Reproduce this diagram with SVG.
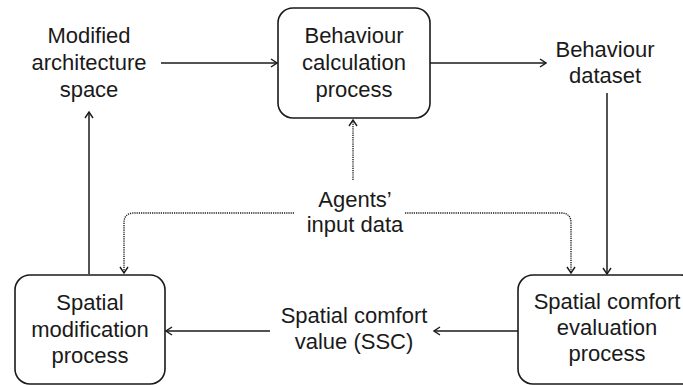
<svg xmlns="http://www.w3.org/2000/svg" width="683" height="385" viewBox="0 0 683 385">
  <defs>
    <marker id="arrow" viewBox="0 0 8 10" refX="7" refY="5" markerWidth="8" markerHeight="10" markerUnits="userSpaceOnUse" orient="auto">
      <path d="M1,1 L7,5 L1,9" fill="none" stroke="#1a1a1a" stroke-width="1.4"/>
    </marker>
  </defs>
  <style>
    text { font-family: "Liberation Sans", Arial, sans-serif; font-size: 22px; fill: #1a1a1a; text-anchor: middle; }
    .box { fill: #ffffff; stroke: #1a1a1a; stroke-width: 1.6; }
    .flow { fill: none; stroke: #1a1a1a; stroke-width: 1.5; marker-end: url(#arrow); }
    .dot { fill: none; stroke: #1a1a1a; stroke-width: 1.4; stroke-dasharray: 1.2 1; marker-end: url(#arrow); }
  </style>
  <rect width="683" height="385" fill="#ffffff"/>

  <!-- connectors -->
  <g id="connectors">
    <path class="flow" d="M161,63 H277"/>
    <path class="flow" d="M430,63 H546"/>
    <path class="flow" d="M607,93 V274"/>
    <path class="flow" d="M518,331 H434"/>
    <path class="flow" d="M270,331 H166"/>
    <path class="flow" d="M89,274 V112"/>
    <path class="dot" d="M353,180 V120"/>
    <path class="dot" d="M294,213 H134 Q124,213 124,223 V273"/>
    <path class="dot" d="M405,213 H561 Q571,213 571,223 V273"/>
  </g>

  <!-- free labels -->
  <g id="modified-space">
    <text x="89" y="43">Modified</text>
    <text x="89" y="70">architecture</text>
    <text x="89" y="97">space</text>
  </g>
  <g id="behaviour-dataset">
    <text x="605" y="57">Behaviour</text>
    <text x="605" y="83">dataset</text>
  </g>
  <g id="agents-input">
    <text x="355" y="207">Agents’</text>
    <text x="355" y="232">input data</text>
  </g>
  <g id="ssc-value">
    <text x="354" y="323">Spatial comfort</text>
    <text x="354" y="349">value (SSC)</text>
  </g>

  <!-- process boxes -->
  <g id="behaviour-calculation">
    <rect class="box" x="278" y="8" width="152" height="110" rx="15"/>
    <text x="354" y="43">Behaviour</text>
    <text x="354" y="70">calculation</text>
    <text x="354" y="97">process</text>
  </g>
  <g id="spatial-modification">
    <rect class="box" x="15" y="275" width="150" height="109" rx="15"/>
    <text x="90" y="310">Spatial</text>
    <text x="90" y="337">modification</text>
    <text x="90" y="363">process</text>
  </g>
  <g id="comfort-evaluation">
    <rect class="box" x="518" y="275" width="178" height="109" rx="15"/>
    <text x="607" y="309">Spatial comfort</text>
    <text x="607" y="335">evaluation</text>
    <text x="607" y="361">process</text>
  </g>
</svg>
